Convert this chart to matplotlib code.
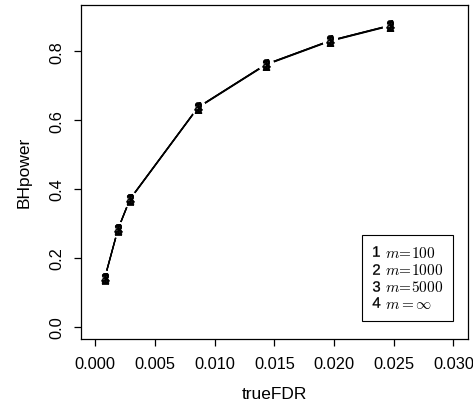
import matplotlib
matplotlib.use("Agg")
import matplotlib.pyplot as plt
from matplotlib.lines import Line2D
from matplotlib.font_manager import FontProperties

plt.rcParams['font.family'] = ['Liberation Sans', 'DejaVu Sans']
plt.rcParams['mathtext.fontset'] = 'custom'
plt.rcParams['mathtext.rm'] = 'Liberation Sans'
plt.rcParams['mathtext.it'] = 'Liberation Sans:italic'
plt.rcParams['mathtext.bf'] = 'Liberation Sans:bold'

# ---- data ----
true_fdr = [0.00078, 0.0019, 0.0029, 0.0086, 0.0143, 0.0197, 0.0247]
power_m100 = [0.138, 0.282, 0.369, 0.636, 0.761, 0.830, 0.874]
power_m1000 = [0.140, 0.283, 0.370, 0.637, 0.762, 0.831, 0.875]
power_m5000 = [0.141, 0.284, 0.371, 0.638, 0.763, 0.832, 0.876]
power_minf = [0.141, 0.284, 0.371, 0.638, 0.763, 0.832, 0.876]
series = [power_m100, power_m1000, power_m5000, power_minf]
symbols = ['1', '2', '3', '4']
legend_labels = [r'$m\!=\!100$', r'$m\!=\!1000$', r'$m\!=\!5000$', r'$m = \infty$']
x_ticks = [0.000, 0.005, 0.010, 0.015, 0.020, 0.025, 0.030]
x_tick_labels = ['0.000', '0.005', '0.010', '0.015', '0.020', '0.025', '0.030']
y_ticks = [0.0, 0.2, 0.4, 0.6, 0.8]
y_tick_labels = ['0.0', '0.2', '0.4', '0.6', '0.8']

fig = plt.figure(figsize=(4.73, 4.14), dpi=100)
ax = fig.add_axes([81/473, 1 - 340/414, (467.7 - 81)/473, (340 - 5.7)/414])

# lines first
for ys in series:
    ax.plot(true_fdr, ys, color='black', lw=0.9, zorder=1)
# white gaps around points (R type="b")
for ys in series:
    ax.plot(true_fdr, ys, linestyle='none', marker='o', ms=11,
            markerfacecolor='white', markeredgecolor='none', zorder=2)
# digit symbols
for ys, s in zip(series, symbols):
    ax.plot(true_fdr, ys, linestyle='none', marker='$%s$' % s, ms=7.5,
            mew=0.4, color='black', zorder=3)

ax.set_xlim(-0.0012, 0.0312)
ax.set_ylim(-0.036, 0.936)
ax.set_xticks(x_ticks)
ax.set_xticklabels(x_tick_labels)
ax.set_yticks(y_ticks)
ax.set_yticklabels(y_tick_labels, rotation=90, va='center')
ax.tick_params(axis='both', direction='out', length=5, width=0.9,
               labelsize=11.8, pad=7)
for sp in ax.spines.values():
    sp.set_linewidth(0.9)
ax.set_xlabel('trueFDR', fontsize=12.5, labelpad=11)
ax.set_ylabel('BHpower', fontsize=12.5, labelpad=13)

handles = [Line2D([], [], linestyle='none', marker='$%s$' % s, ms=7.5,
                  mew=0.2, color='black') for s in symbols]
prop = FontProperties(family='Liberation Sans', size=11, math_fontfamily='cm')
leg = ax.legend(handles, legend_labels, loc='lower right', prop=prop,
                bbox_to_anchor=(0.962, 0.055), fancybox=False,
                edgecolor='black', framealpha=1, handlelength=0.5,
                handletextpad=0.35, borderpad=0.65, labelspacing=0.15,
                borderaxespad=0)
leg.get_frame().set_linewidth(0.8)

fig.savefig('out.png', dpi=100)
